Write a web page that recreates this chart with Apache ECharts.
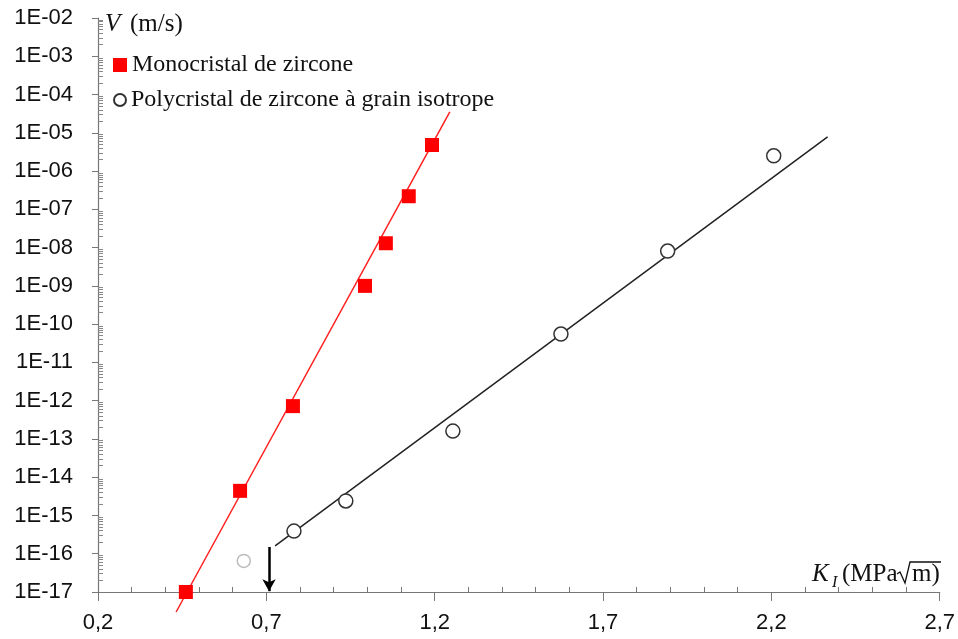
<!DOCTYPE html>
<html>
<head>
<meta charset="utf-8">
<script src="https://cdn.jsdelivr.net/npm/echarts@6/dist/echarts.min.js"></script>
<style>
html,body{margin:0;padding:0;background:#fff;}
#chart{width:958px;height:639px;}
</style>
</head>
<body>
<div id="chart"></div>
<script>
// ---- data ----
const monoX = [0.461, 0.622, 0.779, 0.993, 1.055, 1.123, 1.192];
const monoV = [1e-17, 4.4e-15, 7.2e-13, 1.0e-9, 1.3e-8, 2.2e-7, 4.8e-6];
const monoFitX = [0.432, 1.245];
const monoFitV = [3.0e-18, 3.5e-5];
const polyX = [0.782, 0.936, 1.254, 1.575, 1.892, 2.207];
const polyV = [3.9e-16, 2.4e-15, 1.6e-13, 5.5e-11, 8.1e-9, 2.5e-6];
const polyFitX = [0.726, 2.367];
const polyFitV = [1.6e-16, 7.8e-6];
const outlierX = [0.633];
const outlierV = [6.5e-17];
const arrowX = [0.708, 0.708];
const arrowV = [1.5e-16, 1.05e-17];
const xTicks = [0.2, 0.7, 1.2, 1.7, 2.2, 2.7];
const monoName = 'Monocristal de zircone';
const polyName = 'Polycristal de zircone à grain isotrope';

const zip = (xs, ys) => xs.map((x, i) => [x, ys[i]]);
const serif = '"Liberation Serif", "DejaVu Serif", serif';
const sans = '"Liberation Sans", Arial, sans-serif';

const chart = echarts.init(document.getElementById('chart'));
const yCommon = {
  type: 'log', logBase: 10, min: 1e-17, max: 1e-2, interval: 1,
  position: 'left', splitLine: {show: false}
};
const xCommon = {
  type: 'value', min: xTicks[0], max: xTicks[xTicks.length - 1], interval: 0.5,
  splitLine: {show: false}
};
const txt = (x, y, text, size, italic) => ({
  type: 'text', z: 10,
  style: {
    x: x, y: y, text: text, fill: '#111', verticalAlign: 'middle', align: 'left',
    font: (italic ? 'italic ' : '') + size + 'px ' + serif
  }
});
chart.setOption({
  animation: false,
  grid: {left: 98, right: 18, top: 18, bottom: 47, containLabel: false},
  xAxis: [
    Object.assign({}, xCommon, {
      axisLine: {onZero: false, lineStyle: {color: '#777', width: 1.2}},
      axisTick: {show: true, length: 9, lineStyle: {color: '#777'}},
      axisLabel: {
        margin: 20, color: '#111', fontFamily: sans, fontSize: 22,
        formatter: v => v.toFixed(1).replace('.', ',')
      }
    }),
    Object.assign({}, xCommon, {
      position: 'bottom',
      axisLine: {show: false, onZero: false},
      axisTick: {show: false, inside: true},
      minorTick: {show: true, splitNumber: 5, length: 5, lineStyle: {color: '#777'}},
      axisLabel: {show: false}
    })
  ],
  yAxis: [
    Object.assign({}, yCommon, {
      axisLine: {lineStyle: {color: '#777', width: 1.2}},
      axisTick: {show: true, length: 6, lineStyle: {color: '#777'}},
      axisLabel: {
        margin: 25, color: '#111', fontFamily: sans, fontSize: 22,
        formatter: v => {
          const e = Math.round(Math.log10(v));
          return '1E-' + String(-e).padStart(2, '0');
        }
      }
    }),
    Object.assign({}, yCommon, {
      axisLine: {show: false},
      axisTick: {show: false, inside: true},
      minorTick: {show: true, splitNumber: 9, length: 5, lineStyle: {color: '#888'}},
      axisLabel: {show: false}
    })
  ],
  legend: [
    {
      data: [{name: monoName, icon: 'rect'}],
      orient: 'vertical', left: 108, top: 48, itemWidth: 14, itemHeight: 14,
      textStyle: {fontFamily: serif, fontSize: 24, color: '#111'}
    },
    {
      data: [{name: polyName, icon: 'circle'}],
      orient: 'vertical', left: 108, top: 83, itemWidth: 12, itemHeight: 12,
      textStyle: {fontFamily: serif, fontSize: 24, color: '#111'}
    }
  ],
  series: [
    {
      type: 'line', name: 'monoFit', data: zip(monoFitX, monoFitV), showSymbol: false,
      symbol: 'none', clip: false, lineStyle: {color: '#ff2020', width: 1.5}, z: 2
    },
    {
      type: 'line', name: 'polyFit', data: zip(polyFitX, polyFitV), showSymbol: false,
      symbol: 'none', clip: false, lineStyle: {color: '#222', width: 1.5}, z: 2
    },
    {
      type: 'scatter', name: monoName, data: zip(monoX, monoV), symbol: 'rect',
      symbolSize: 14, clip: false, itemStyle: {color: '#ff0000', opacity: 1}, z: 3
    },
    {
      type: 'scatter', name: polyName, data: zip(polyX, polyV), symbol: 'circle',
      symbolSize: 14, clip: false,
      itemStyle: {color: '#fff', borderColor: '#333', borderWidth: 1.5, opacity: 1}, z: 3
    },
    {
      type: 'scatter', name: 'outlier', data: zip(outlierX, outlierV), symbol: 'circle',
      symbolSize: 13, clip: false,
      itemStyle: {color: '#fff', borderColor: '#bbb', borderWidth: 1.5, opacity: 1}, z: 3,
      markLine: {
        silent: true, symbol: ['none', 'arrow'], symbolSize: [10, 12],
        label: {show: false},
        lineStyle: {color: '#000', width: 2.5, type: 'solid'},
        data: [[{coord: [arrowX[0], arrowV[0]]}, {coord: [arrowX[1], arrowV[1]]}]]
      }
    }
  ],
  graphic: [
    txt(105, 24, 'V', 25, true),
    txt(130, 24, '(m/s)', 25, false),
    txt(812, 574, 'K', 25, true),
    txt(832, 583, 'I', 16, true),
    txt(842, 574, '(MPa', 25, false),
    {
      type: 'polyline', z: 10,
      shape: {points: [[897, 574], [900, 572], [905, 583], [910, 562], [941, 562]]},
      style: {stroke: '#111', lineWidth: 1.3, fill: null}
    },
    txt(912, 574, 'm)', 25, false)
  ]
});
</script>
</body>
</html>
